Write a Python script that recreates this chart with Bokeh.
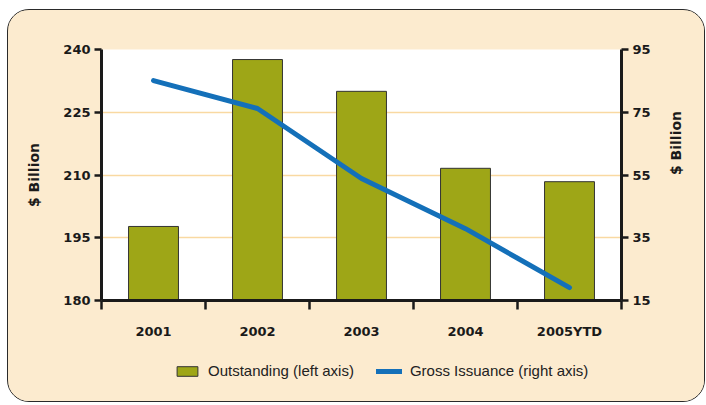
import math
from bokeh.plotting import figure
from bokeh.layouts import column
from bokeh.models import (Range1d, LinearAxis, FixedTicker, Legend, LegendItem)
from bokeh.embed import file_html
from bokeh.resources import INLINE

categories = ["2001", "2002", "2003", "2004", "2005YTD"]
outstanding = [197.7, 237.6, 230.0, 211.6, 208.4]
gross_issuance = [85.1, 76.2, 53.9, 37.9, 19.1]
left_ticks = [180, 195, 210, 225, 240]
right_ticks = [15, 35, 55, 75, 95]
series_names = ["Outstanding (left axis)", "Gross Issuance (right axis)"]

BEIGE = "#fcebcf"
OLIVE = "#9ea617"
BLUE = "#1470b9"
GRID = "#f9d9a2"
BOLD_FONT = "DejaVu Sans"
FONT = "Liberation Sans"

xc = [i + 0.5 for i in range(len(categories))]

p = figure(frame_width=520, frame_height=251, output_backend="svg", toolbar_location=None,
           x_range=Range1d(0, 5), y_range=Range1d(180, 240),
           min_border_left=93, min_border_right=83, min_border_top=39, min_border_bottom=50)
p.background_fill_color = "white"
p.border_fill_color = BEIGE
p.outline_line_color = None
p.extra_y_ranges = {"right": Range1d(15, 95)}

# grid
p.xgrid.visible = False
p.ygrid.ticker = FixedTicker(ticks=left_ticks)
p.ygrid.grid_line_color = GRID
p.ygrid.grid_line_width = 1.5

p.vbar(x=xc, top=outstanding, bottom=180, width=0.48, fill_color=OLIVE,
       line_color="#333333", line_width=1)
p.line(x=xc, y=gross_issuance, y_range_name="right", line_color=BLUE,
       line_width=5, line_cap="round", line_join="round")

# x axis
xa = p.xaxis[0]
xa.ticker = FixedTicker(ticks=xc, minor_ticks=[0, 1, 2, 3, 4, 5])
xa.major_label_overrides = {x: c for x, c in zip(xc, categories)}
xa.major_tick_out = 0
xa.major_tick_in = 0
xa.minor_tick_out = 9
xa.minor_tick_in = 0
xa.minor_tick_line_width = 2.5
xa.minor_tick_line_color = "#1a1a1a"
xa.axis_line_width = 3
xa.axis_line_color = "#1a1a1a"
xa.major_label_text_font = BOLD_FONT
xa.major_label_text_font_style = "bold"
xa.major_label_text_font_size = "13px"
xa.major_label_text_color = "#1a1a1a"
xa.major_label_standoff = 14

def style_y(ax, ticks):
    ax.ticker = FixedTicker(ticks=ticks)
    ax.minor_tick_line_color = None
    ax.major_tick_out = 7
    ax.major_tick_in = 0
    ax.major_tick_line_width = 2.5
    ax.major_tick_line_color = "#1a1a1a"
    ax.axis_line_width = 3
    ax.axis_line_color = "#1a1a1a"
    ax.major_label_text_font = BOLD_FONT
    ax.major_label_text_font_style = "bold"
    ax.major_label_text_font_size = "13px"
    ax.major_label_text_color = "#1a1a1a"
    ax.major_label_standoff = 4
    ax.axis_label = "$ Billion"
    ax.axis_label_text_font = BOLD_FONT
    ax.axis_label_text_font_style = "bold"
    ax.axis_label_text_font_size = "14px"
    ax.axis_label_text_color = "#1a1a1a"
    ax.axis_label_standoff = 18

ya = p.yaxis[0]
style_y(ya, left_ticks)

ra = LinearAxis(y_range_name="right")
style_y(ra, right_ticks)
ra.axis_label_standoff = 22
try:
    ra.axis_label_orientation = math.pi / 2
except Exception:
    pass
p.add_layout(ra, "right")

# legend strip (legend keys reuse the series, which fall fully outside this strip's ranges)
lp = figure(width=696, height=51, output_backend="svg", toolbar_location=None,
            x_range=Range1d(1000, 1001), y_range=Range1d(1000, 1001),
            x_axis_location=None, y_axis_location=None,
            min_border_left=0, min_border_right=0, min_border_top=0, min_border_bottom=0)
lp.background_fill_color = BEIGE
lp.border_fill_color = BEIGE
lp.outline_line_color = None
lp.grid.visible = False
lr_bar = lp.vbar(x=xc, top=outstanding, bottom=180, width=0.48, fill_color=OLIVE,
                 line_color="#333333", line_width=1)
lr_line = lp.line(x=xc, y=gross_issuance, line_color=BLUE, line_width=5, line_cap="round")

legend = Legend(items=[LegendItem(label=series_names[0], renderers=[lr_bar]),
                       LegendItem(label=series_names[1], renderers=[lr_line])],
                orientation="horizontal", location=(73, 22),
                background_fill_alpha=0, border_line_color=None,
                label_text_font=FONT, label_text_font_size="15px", label_text_color="#222222",
                glyph_width=26, glyph_height=12, spacing=22, margin=0, padding=0,
                label_standoff=8)
lp.add_layout(legend, "center")

layout = column(p, lp, spacing=0)
layout.margin = (9, 0, 0, 7)
layout.styles = {"border": "1.5px solid #2a2a2a", "border-radius": "22px", "overflow": "hidden",
                 "background-color": BEIGE}

open("out.html", "w").write(file_html(layout, INLINE))
